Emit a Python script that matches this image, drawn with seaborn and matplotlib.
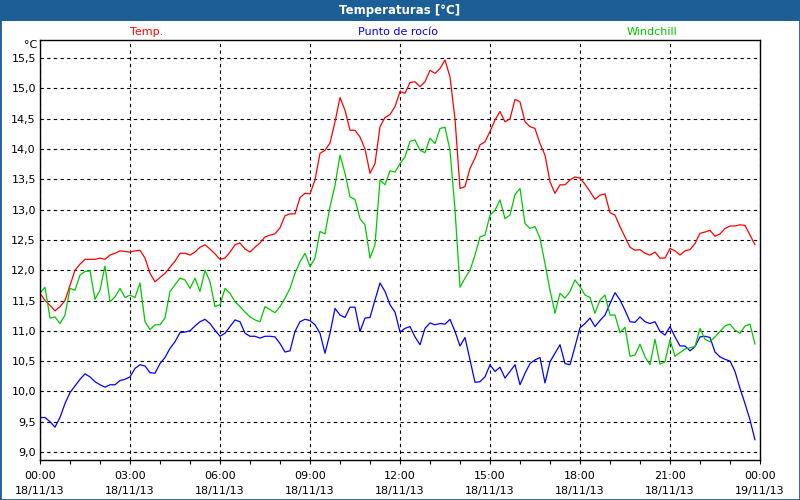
import numpy as np
import pandas as pd
import matplotlib
matplotlib.use("Agg")
import matplotlib.pyplot as plt
import matplotlib.dates as mdates
from matplotlib.ticker import FuncFormatter, MultipleLocator
from matplotlib.patches import Rectangle
import seaborn as sns

# ---------------- data (10-minute readings, 18/11/13) ----------------
temp = [11.62, 11.5, 11.42, 11.33, 11.4, 11.5, 11.75, 12.0, 12.1, 12.18, 12.18, 12.18,
        12.2, 12.18, 12.25, 12.28, 12.32, 12.31, 12.3, 12.32, 12.33, 12.2, 11.95, 11.81,
        11.88, 11.95, 12.05, 12.15, 12.28, 12.28, 12.25, 12.3, 12.38, 12.42, 12.35, 12.27,
        12.18, 12.2, 12.3, 12.42, 12.45, 12.35, 12.3, 12.38, 12.45, 12.55, 12.58, 12.6,
        12.7, 12.9, 12.93, 12.93, 13.2, 13.27, 13.26, 13.49, 13.93, 13.98, 14.1, 14.45,
        14.85, 14.64, 14.31, 14.31, 14.2, 14.0, 13.6, 13.76, 14.37, 14.52, 14.57, 14.7,
        14.95, 14.92, 15.1, 15.11, 15.03, 15.11, 15.3, 15.25, 15.33, 15.47, 15.19, 14.5,
        13.35, 13.38, 13.68, 13.85, 14.07, 14.12, 14.29, 14.48, 14.62, 14.45, 14.5, 14.82,
        14.78, 14.45, 14.37, 14.34, 14.09, 13.9, 13.46, 13.27, 13.41, 13.41, 13.49, 13.54,
        13.52, 13.42, 13.3, 13.17, 13.24, 13.26, 12.95, 12.91, 12.72, 12.55, 12.38, 12.33,
        12.34, 12.28, 12.25, 12.3, 12.2, 12.2, 12.36, 12.32, 12.25, 12.32, 12.34, 12.44,
        12.61, 12.63, 12.66, 12.56, 12.6, 12.69, 12.73, 12.73, 12.75, 12.74, 12.58, 12.42]

windchill = [11.62, 11.72, 11.21, 11.23, 11.12, 11.26, 11.7, 11.67, 11.92, 11.98, 11.99, 11.52,
             11.67, 12.07, 11.48, 11.56, 11.7, 11.55, 11.59, 11.55, 11.79, 11.15, 11.02, 11.1,
             11.1, 11.21, 11.65, 11.76, 11.87, 11.84, 11.7, 11.87, 11.65, 12.0, 11.81, 11.4,
             11.43, 11.7, 11.62, 11.48, 11.4, 11.31, 11.23, 11.18, 11.15, 11.4, 11.35, 11.3,
             11.4, 11.54, 11.7, 11.95, 12.14, 12.28, 12.06, 12.2, 12.64, 12.6, 13.05, 13.4,
             13.9, 13.6, 13.21, 13.17, 12.85, 12.75, 12.2, 12.42, 13.49, 13.41, 13.64, 13.62,
             13.76, 13.87, 14.13, 14.15, 13.98, 13.94, 14.18, 14.09, 14.34, 14.36, 13.98, 13.0,
             11.72, 11.87, 12.0, 12.25, 12.55, 12.58, 12.91, 12.99, 13.16, 12.85, 12.91, 13.25,
             13.35, 12.77, 12.69, 12.72, 12.53, 12.11, 11.67, 11.29, 11.62, 11.54, 11.65, 11.84,
             11.73, 11.59, 11.55, 11.29, 11.51, 11.59, 11.26, 11.26, 10.97, 11.06, 10.58, 10.6,
             10.78, 10.57, 10.44, 10.86, 10.45, 10.49, 10.85, 10.58, 10.64, 10.7, 10.72, 10.74,
             11.04, 10.86, 10.82, 10.9, 10.99, 11.08, 11.11, 11.01, 10.96, 11.08, 11.11, 10.78]

dewpoint = [9.57, 9.57, 9.5, 9.41, 9.57, 9.8, 9.98, 10.09, 10.2, 10.29, 10.24, 10.16,
            10.11, 10.07, 10.11, 10.11, 10.18, 10.2, 10.24, 10.38, 10.44, 10.42, 10.31, 10.3,
            10.46, 10.56, 10.71, 10.82, 10.97, 10.98, 11.0, 11.08, 11.15, 11.19, 11.12, 11.01,
            10.91, 10.96, 11.07, 11.18, 11.15, 10.96, 10.91, 10.91, 10.88, 10.91, 10.91, 10.9,
            10.79, 10.65, 10.67, 10.99, 11.15, 11.19, 11.17, 11.1, 10.96, 10.63, 10.96, 11.37,
            11.26, 11.22, 11.39, 11.39, 10.99, 11.21, 11.22, 11.51, 11.79, 11.65, 11.43, 11.31,
            10.98, 11.04, 11.07, 10.9, 10.77, 11.04, 11.13, 11.1, 11.12, 11.11, 11.19, 10.99,
            10.75, 10.89, 10.52, 10.15, 10.16, 10.24, 10.44, 10.33, 10.4, 10.22, 10.33, 10.44,
            10.11, 10.3, 10.46, 10.52, 10.56, 10.14, 10.49, 10.63, 10.77, 10.46, 10.44, 10.74,
            11.05, 11.12, 11.21, 11.07, 11.17, 11.26, 11.45, 11.63, 11.51, 11.34, 11.15, 11.14,
            11.23, 11.15, 11.12, 11.15, 10.99, 10.93, 11.07, 10.9, 10.75, 10.75, 10.67, 10.74,
            10.9, 10.91, 10.89, 10.65, 10.57, 10.53, 10.5, 10.33, 10.05, 9.8, 9.53, 9.2]

series_names = ["Temp.", "Punto de rocío", "Windchill"]
series_colors = ["#ff0000", "#0000ff", "#00c800"]
times = pd.date_range("2013-11-18 00:00", periods=len(temp), freq="10min")

df = pd.concat([
    pd.DataFrame({"time": times, "value": temp, "series": series_names[0]}),
    pd.DataFrame({"time": times, "value": dewpoint, "series": series_names[1]}),
    pd.DataFrame({"time": times, "value": windchill, "series": series_names[2]}),
], ignore_index=True)

# ---------------- figure ----------------
sns.set_theme(style="white")
plt.rcParams["font.family"] = ["DejaVu Sans"]

fig = plt.figure(figsize=(8, 5), dpi=100)
fig.patch.set_facecolor("white")
ax = fig.add_axes([0.05, 0.08, 0.90, 0.84])
ax.set_facecolor("white")

sns.lineplot(data=df, x="time", y="value", hue="series", hue_order=series_names,
             palette=dict(zip(series_names, series_colors)), linewidth=0.9,
             legend=False, ax=ax)

start = pd.Timestamp("2013-11-18 00:00")
ax.set_xlim(start, start + pd.Timedelta(hours=24))
ax.set_ylim(8.868, 15.8)

ax.xaxis.set_major_locator(mdates.HourLocator(byhour=range(0, 24, 3)))
ax.xaxis.set_minor_locator(mdates.HourLocator(interval=1))
ax.xaxis.set_major_formatter(mdates.DateFormatter("%H:%M\n%d/%m/%y"))
ax.yaxis.set_major_locator(MultipleLocator(0.5))
ax.yaxis.set_major_formatter(FuncFormatter(lambda v, p: f"{v:.1f}".replace(".", ",")))

ax.grid(True, which="major", color="black", linestyle=(0, (3, 3)), linewidth=0.8)
ax.set_xlabel("")
ax.set_ylabel("")
ax.tick_params(axis="y", length=0, pad=3, labelsize=8, colors="black")
ax.tick_params(axis="x", which="both", direction="out", length=3, width=0.8,
               color="black", labelsize=8, pad=5, labelcolor="black", bottom=True)
for s in ax.spines.values():
    s.set_color("black")
    s.set_linewidth(1.0)

# title bar and frame
fig.add_artist(Rectangle((0, 0.958), 1, 0.042, transform=fig.transFigure,
                         facecolor="#1d5e96", edgecolor="none", zorder=0))
fig.add_artist(Rectangle((0, 0), 1, 1, transform=fig.transFigure, fill=False,
                         edgecolor="#1d5e96", linewidth=2.0, zorder=5))
fig.text(0.5, 0.979, "Temperaturas [°C]", color="white", weight="bold",
         ha="center", va="center", fontsize=8.5)

# series labels
for xpos, name, col in zip([0.183, 0.498, 0.815], series_names, series_colors):
    fig.text(xpos, 0.936, name, color=col, ha="center", va="center", fontsize=8)

fig.text(0.047, 0.911, "°C", ha="right", va="center", fontsize=8, color="black")

fig.canvas.draw()
for lbl in ax.get_xticklabels():
    lbl.set_linespacing(1.6)

fig.savefig("out.png", dpi=100)
